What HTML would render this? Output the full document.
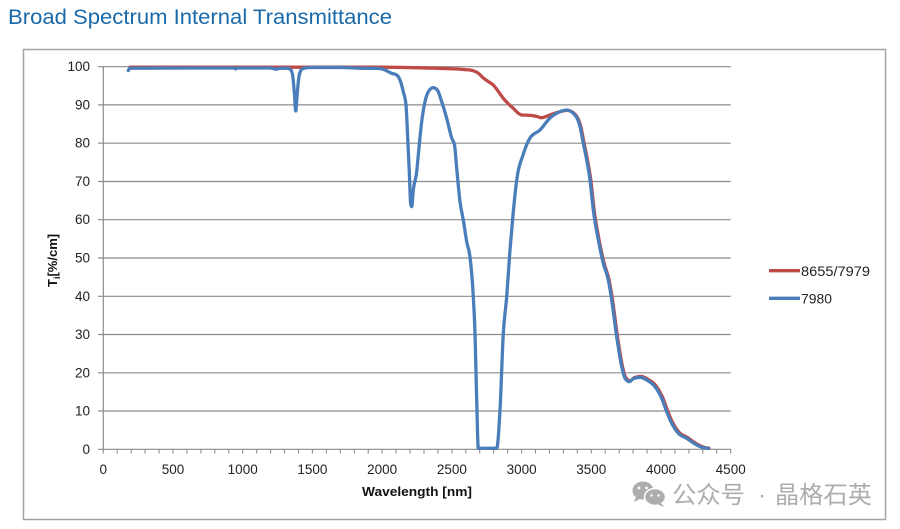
<!DOCTYPE html>
<html><head><meta charset="utf-8"><style>
html,body{margin:0;padding:0;background:#fff;}
svg{display:block;}
</style></head><body>
<svg id="chart" width="900" height="529" viewBox="0 0 900 529" xmlns="http://www.w3.org/2000/svg">
<rect x="0" y="0" width="900" height="529" fill="#fff"/>
<text x="8" y="24" font-family="Liberation Sans, sans-serif" font-size="21" fill="#1a69a8" textLength="384" lengthAdjust="spacingAndGlyphs">Broad Spectrum Internal Transmittance</text>
<rect x="23.5" y="49.5" width="862" height="470" fill="none" stroke="#a3a3a3" stroke-width="1.5"/>
<g stroke="#8c8c8c" stroke-width="1.2">
<line x1="98" y1="66.7" x2="730.7" y2="66.7"/>
<line x1="98" y1="104.9" x2="730.7" y2="104.9"/>
<line x1="98" y1="143.2" x2="730.7" y2="143.2"/>
<line x1="98" y1="181.5" x2="730.7" y2="181.5"/>
<line x1="98" y1="219.7" x2="730.7" y2="219.7"/>
<line x1="98" y1="258" x2="730.7" y2="258"/>
<line x1="98" y1="296.3" x2="730.7" y2="296.3"/>
<line x1="98" y1="334.5" x2="730.7" y2="334.5"/>
<line x1="98" y1="372.8" x2="730.7" y2="372.8"/>
<line x1="98" y1="411" x2="730.7" y2="411"/>
<line x1="98" y1="449.3" x2="730.7" y2="449.3"/>
<line x1="103.3" y1="66.7" x2="103.3" y2="449.3"/>
</g>
<path stroke="#8c8c8c" stroke-width="1.1" fill="none" d="M103.3 449.3V453.5M117.2 449.3V453.5M131.2 449.3V453.5M145.1 449.3V453.5M159.1 449.3V453.5M173.0 449.3V453.5M186.9 449.3V453.5M200.9 449.3V453.5M214.8 449.3V453.5M228.8 449.3V453.5M242.7 449.3V453.5M256.7 449.3V453.5M270.6 449.3V453.5M284.5 449.3V453.5M298.5 449.3V453.5M312.4 449.3V453.5M326.4 449.3V453.5M340.3 449.3V453.5M354.3 449.3V453.5M368.2 449.3V453.5M382.1 449.3V453.5M396.1 449.3V453.5M410.0 449.3V453.5M424.0 449.3V453.5M437.9 449.3V453.5M451.9 449.3V453.5M465.8 449.3V453.5M479.7 449.3V453.5M493.7 449.3V453.5M507.6 449.3V453.5M521.6 449.3V453.5M535.5 449.3V453.5M549.4 449.3V453.5M563.4 449.3V453.5M577.3 449.3V453.5M591.3 449.3V453.5M605.2 449.3V453.5M619.2 449.3V453.5M633.1 449.3V453.5M647.0 449.3V453.5M661.0 449.3V453.5M674.9 449.3V453.5M688.9 449.3V453.5M702.8 449.3V453.5M716.7 449.3V453.5M730.7 449.3V453.5"/>
<g font-family="Liberation Sans, sans-serif" font-size="13.5" fill="#222" text-anchor="end">
<text x="90" y="71.2">100</text>
<text x="90" y="109.4">90</text>
<text x="90" y="147.7">80</text>
<text x="90" y="186">70</text>
<text x="90" y="224.2">60</text>
<text x="90" y="262.5">50</text>
<text x="90" y="300.8">40</text>
<text x="90" y="339">30</text>
<text x="90" y="377.3">20</text>
<text x="90" y="415.5">10</text>
<text x="90" y="453.8">0</text>
</g>
<g font-family="Liberation Sans, sans-serif" font-size="13.5" fill="#222" text-anchor="middle">
<text x="103.3" y="474">0</text>
<text x="173" y="474">500</text>
<text x="242.7" y="474">1000</text>
<text x="312.4" y="474">1500</text>
<text x="382.1" y="474">2000</text>
<text x="451.9" y="474">2500</text>
<text x="521.6" y="474">3000</text>
<text x="591.3" y="474">3500</text>
<text x="661" y="474">4000</text>
<text x="730.7" y="474">4500</text>
</g>
<text x="362" y="496" font-family="Liberation Sans, sans-serif" font-size="13" font-weight="bold" fill="#111" textLength="110" lengthAdjust="spacingAndGlyphs">Wavelength [nm]</text>
<text transform="translate(57,287) rotate(-90)" font-family="Liberation Sans, sans-serif" font-size="13" font-weight="bold" fill="#111">T<tspan font-size="9" dy="3">i</tspan><tspan dy="-3">[%/cm]</tspan></text>
<polyline class="smooth" fill="none" stroke="#be4b48" stroke-width="3.3" stroke-linejoin="round" stroke-linecap="round" points="130,67.2 380,67.2 420,67.8 450,68.7 465,69.6 473,70.7 478,73 483.3,78 489,82 493.3,85 498,91 503.3,98.3 508,103.5 513.3,108.3 518,113 521.7,115 528,115.2 533.3,115.7 537,116.5 541.7,117.7 546,116.5 551.7,114.3 560,111.7 566.7,110.3 574.1,113.3 580.8,126.7 584.1,143.3 587.5,160 590.8,180 594.1,210 599.1,240 604.1,263.3 609.1,280 612.5,300 617.5,336.7 622.5,366.7 625.8,377.6 630.1,380.8 634.1,377.8 640.8,376.4 647.5,379 655.8,385.6 662.5,397 667.5,410.5 672.5,422.3 679.1,432.3 687.5,437.5 697.5,444.3 704.1,447.3 709,448.3"/>
<polyline class="smooth" fill="none" stroke="#4a7ebb" stroke-width="3.3" stroke-linejoin="round" stroke-linecap="round" points="128.3,70.5 130,68.2 200,68 234,68 235.5,69 237,68 270,68 276,69.2 280,68.2 288,68.4 291,70 293,78 294.5,95 295.7,111 297,97 298.5,80 300.5,71 303,68.5 310,67.5 340,67.5 365,68.3 380,68.5 385,70 391.7,73.3 396.7,75 400,80 403.3,91.7 406,105 407.7,138 409.3,171.7 410.7,204 411.7,206.7 413.3,190 416.7,171.7 418.3,155 421.7,121.7 425,101.7 428.3,91.7 433.3,87.7 437.3,90 441.7,101.7 446.7,118.3 451.7,138 454.5,145 456.7,168.3 460,201.7 463.3,220 466.7,241.7 470,257 473.3,296.7 475,333.3 476.7,400 478.3,448.3 496.7,448.3 500,410 503.3,333.3 506.7,296.7 510,250 513,215 517,178 523,155 530,138 540,130 550,118 560,111.7 566.7,110 573.3,113.3 580,126.7 583.3,143.3 586.7,160 590,180 593.3,210 598.3,240 603.3,263.3 608.3,280 611.7,300 616.7,336.7 621.7,366.7 625,378.3 629.3,381.7 633.3,378.7 640,377.3 646.7,380 655,386.7 661.7,398.3 666.7,411.7 671.7,423.3 678.3,433.3 686.7,438.3 696.7,445 703.3,447.7 708.3,448.3"/>
<line x1="769" y1="270.7" x2="800" y2="270.7" stroke="#be4b48" stroke-width="3.3"/>
<line x1="769" y1="298.3" x2="800" y2="298.3" stroke="#4a7ebb" stroke-width="3.3"/>
<g font-family="Liberation Sans, sans-serif" font-size="13.5" fill="#222">
<text x="801" y="275.8" textLength="69" lengthAdjust="spacingAndGlyphs">8655/7979</text>
<text x="801" y="303.4" textLength="31" lengthAdjust="spacingAndGlyphs">7980</text>
</g>
<g fill="#adadad">
<ellipse cx="643" cy="490.5" rx="10.5" ry="9"/>
<path d="M636 497 L634 502 L640 499 Z"/>
<ellipse cx="655" cy="497" rx="10.5" ry="8.5" stroke="#fff" stroke-width="1.5"/>
<path d="M661 503 L664 507 L658 504.5 Z"/>
</g>
<g fill="#fff">
<circle cx="639" cy="488" r="1.4"/><circle cx="646.5" cy="488" r="1.4"/>
<circle cx="651.5" cy="495.5" r="1.2"/><circle cx="658.5" cy="495.5" r="1.2"/>
</g>
<g font-family="Liberation Sans, 'Noto Sans CJK SC', sans-serif" font-size="24" fill="#adadad">
<text x="672" y="503" textLength="73" lengthAdjust="spacingAndGlyphs">公众号</text>
<text x="762" y="503" text-anchor="middle">·</text>
<text x="775" y="503" textLength="97" lengthAdjust="spacingAndGlyphs">晶格石英</text>
</g>
</svg>
<script>
(function(){
  var NS="http://www.w3.org/2000/svg";
  function sgn(v){return v<0?-1:(v>0?1:0);}
  var pls=document.querySelectorAll("polyline.smooth");
  for(var i=0;i<pls.length;i++){
    var pl=pls[i];
    var raw=pl.getAttribute("points").trim().split(/\s+/);
    var p=raw.map(function(s){var a=s.split(",");return [parseFloat(a[0]),parseFloat(a[1])];});
    var n=p.length, h=[], s=[], m=[];
    for(var k=0;k<n-1;k++){h[k]=p[k+1][0]-p[k][0]; s[k]=(p[k+1][1]-p[k][1])/h[k];}
    m[0]=s[0]; m[n-1]=s[n-2];
    for(var k=1;k<n-1;k++){
      var t0=s[k-1],t1=s[k],h0=h[k-1],h1=h[k];
      var pp=(t0*h1+t1*h0)/(h0+h1);
      m[k]=(sgn(t0)+sgn(t1))*Math.min(Math.abs(t0),Math.abs(t1),0.5*Math.abs(pp))||0;
    }
    var d="M"+p[0][0]+" "+p[0][1];
    for(var k=0;k<n-1;k++){
      var dx=h[k]/3;
      d+=" C"+(p[k][0]+dx).toFixed(2)+" "+(p[k][1]+dx*m[k]).toFixed(2)+" "+(p[k+1][0]-dx).toFixed(2)+" "+(p[k+1][1]-dx*m[k+1]).toFixed(2)+" "+p[k+1][0]+" "+p[k+1][1];
    }
    var path=document.createElementNS(NS,"path");
    path.setAttribute("d",d);
    ["fill","stroke","stroke-width","stroke-linejoin","stroke-linecap"].forEach(function(a){path.setAttribute(a,pl.getAttribute(a));});
    pl.parentNode.replaceChild(path,pl);
  }
})();
</script>
</body></html>
